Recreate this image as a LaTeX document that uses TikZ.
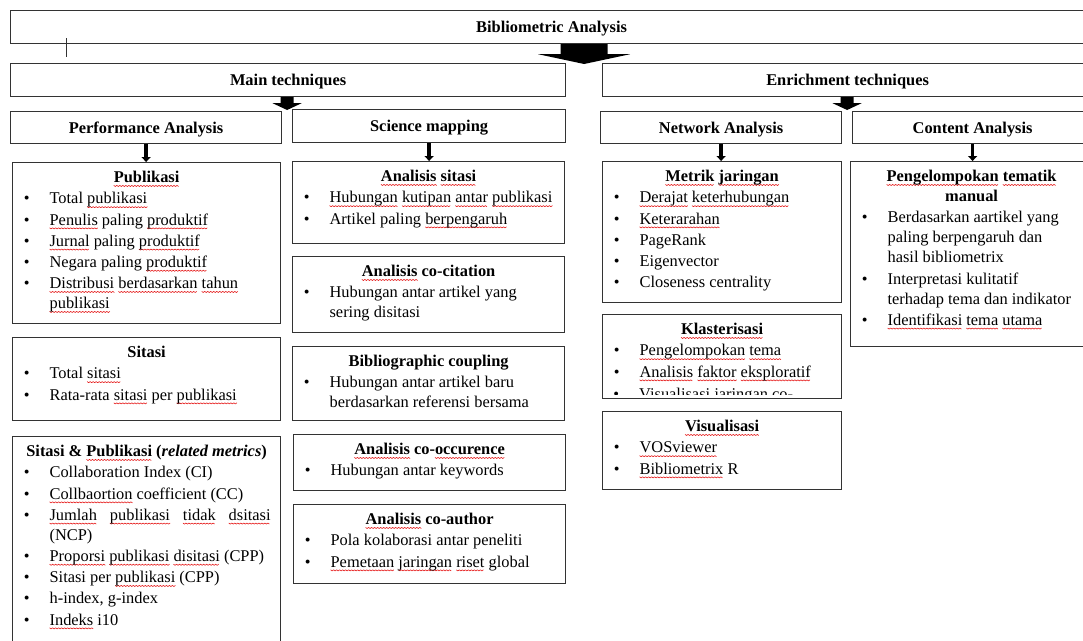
\documentclass[tikz,border=0pt]{standalone}
\usepackage{fontspec}
\setmainfont{Liberation Serif}
\usetikzlibrary{arrows.meta, calc}
\definecolor{boxgray}{rgb}{0.2, 0.2, 0.2}
\definecolor{typored}{rgb}{0.9, 0.1, 0.1}

\newcommand{\boxfont}{\fontsize{16.4}{20}\selectfont}
\newcount\wavesteps
\newcount\wavei
\newdimen\wavex
\makeatletter
\newcommand{\wavepath}[1]{%
    \wavex=#1\relax
    \wavesteps=\wavex \divide\wavesteps by 98304
    \def\wavestr{0 0 m}\wavei=0
    \loop\ifnum\wavei<\wavesteps
        \advance\wavei by 1
        \wavex=1.5pt \multiply\wavex by \wavei
        \ifodd\wavei \def\wavey{-1.1}\else\def\wavey{0}\fi
        \edef\wavestr{\wavestr\space\strip@pt\wavex\space\wavey\space l}%
    \repeat
    \special{pdf:content q 0.9 0.1 0.1 RG 0.6 w 1 j \wavestr\space S Q}}
\makeatother
\newcommand{\typo}[1]{\leavevmode\setbox0=\hbox{#1}\rlap{\lower2.8pt\hbox{\wavepath{\wd0}}}\box0\relax}
\newcommand{\cardbody}[3]{\parbox[c][#2pt][t]{#1pt}{\boxfont #3}}
\newcommand{\cardhead}[1]{{\centering\bfseries\rule{0pt}{20pt}#1\par}}
\newcommand{\li}[1]{{\raggedright\leftskip=37pt\relax\vspace{1.2pt}\noindent\llap{\textbullet\hspace{20pt}}#1\par}}

\begin{document}
\begin{tikzpicture}[x=1pt, y=-1pt,
        head/.style={draw=boxgray, line width=1.2pt, anchor=north west, inner sep=0pt,
            font=\boxfont\bfseries, text height=11pt, text depth=0pt},
        card/.style={draw=boxgray, line width=1.2pt, anchor=north west, inner sep=0pt},
        blockarrow/.style={fill=black},
        stem/.style={line width=3.5pt, -{Triangle[length=5pt, width=9pt]}}]
                    \clip (0, 0) rectangle (1083, 640);

                    \node[head, minimum width=1082pt, minimum height=33pt] (Biblio) at (10, 10) {Bibliometric Analysis};
                    \node[head, minimum width=555pt, minimum height=33pt] (Main) at (10, 63) {Main techniques};
                    \node[head, minimum width=490pt, minimum height=33pt] (Enrich) at (602, 63) {Enrichment techniques};
                    \node[head, minimum width=271pt, minimum height=32pt] (Perf) at (10, 111) {Performance Analysis};
                    \node[head, minimum width=273pt, minimum height=33pt] (SciMap) at (292, 109) {Science mapping};
                    \node[head, minimum width=241pt, minimum height=32pt] (NetAn) at (600, 111) {Network Analysis};
                    \node[head, minimum width=240pt, minimum height=32pt] (ContAn) at (852, 111) {Content Analysis};

                    \node[card] (Pub) at (12, 162) {\cardbody{268}{161}{%
                        \cardhead{\typo{Publikasi}}
                        \li{Total \typo{publikasi}}
                        \li{\typo{Penulis} paling \typo{produktif}}
                        \li{\typo{Jurnal} paling \typo{produktif}}
                        \li{Negara paling \typo{produktif}}
                        \li{\typo{Distribusi} \typo{berdasarkan} \typo{tahun}\\\typo{publikasi}}}};
                    \node[card] (Sit) at (12, 337) {\cardbody{268}{83}{%
                        \cardhead{Sitasi}
                        \li{Total \typo{sitasi}}
                        \li{Rata-rata \typo{sitasi} per \typo{publikasi}}}};
                    \node[card] (SitPub) at (12, 436) {\cardbody{268}{224}{%
                        \cardhead{Sitasi \& \typo{Publikasi} (\textit{related metrics})}
                        \li{Collaboration Index (CI)}
                        \li{\typo{Collbaortion} coefficient (CC)}
                        \li{\makebox[221pt][s]{\typo{Jumlah} \typo{publikasi} \typo{tidak} \typo{dsitasi}}\\(NCP)}
                        \li{\typo{Proporsi} \typo{publikasi} \typo{disitasi} (CPP)}
                        \li{Sitasi per \typo{publikasi} (CPP)}
                        \li{h-index, g-index}
                        \li{\typo{Indeks} i10}}};

                    \node[card] (ASit) at (292, 161) {\cardbody{272}{82}{%
                        \cardhead{\typo{Analisis} \typo{sitasi}}
                        \li{\typo{Hubungan} \typo{kutipan} \typo{antar} \typo{publikasi}}
                        \li{Artikel paling \typo{berpengaruh}}}};
                    \node[card] (ACocit) at (292, 256) {\cardbody{272}{76}{%
                        \cardhead{\typo{Analisis} co-citation}
                        \li{Hubungan antar artikel yang\\sering disitasi}}};
                    \node[card] (BibCoup) at (292, 346) {\cardbody{272}{74}{%
                        \cardhead{Bibliographic coupling}
                        \li{Hubungan antar artikel baru\\berdasarkan referensi bersama}}};
                    \node[card] (ACooc) at (293, 434) {\cardbody{272}{56}{%
                        \cardhead{\typo{Analisis} co-\typo{occurence}}
                        \li{Hubungan antar keywords}}};
                    \node[card] (ACoauth) at (293, 504) {\cardbody{272}{79}{%
                        \cardhead{\typo{Analisis} co-author}
                        \li{Pola kolaborasi antar peneliti}
                        \li{\typo{Pemetaan} \typo{jaringan} \typo{riset} global}}};

                    \node[card] (Metrik) at (602, 161) {\cardbody{239}{141}{%
                        \cardhead{\typo{Metrik} \typo{jaringan}}
                        \li{\typo{Derajat} \typo{keterhubungan}}
                        \li{\typo{Keterarahan}}
                        \li{PageRank}
                        \li{Eigenvector}
                        \li{Closeness centrality}}};
                    \node[card] (Klas) at (602, 314) {\cardbody{239}{84}{%
                        \cardhead{\typo{Klasterisasi}}
                        \li{\typo{Pengelompokan} \typo{tema}}
                        \li{\typo{Analisis} \typo{faktor} \typo{eksploratif}}}};
                    \node[card] (Visual) at (602, 411) {\cardbody{239}{78}{%
                        \cardhead{\typo{Visualisasi}}
                        \li{\typo{VOSviewer}}
                        \li{\typo{Bibliometrix} R}}};

                    \node[card] (Tematik) at (850, 161) {\cardbody{242}{185}{%
                        \cardhead{\typo{Pengelompokan} \typo{tematik}\\manual}
                        \li{Berdasarkan aartikel yang\\paling berpengaruh dan\\hasil bibliometrix}
                        \li{Interpretasi kulitatif\\terhadap tema dan indikator}
                        \li{\typo{Identifikasi} \typo{tema} \typo{utama}}}};

                    \begin{scope}
                        \clip (Klas.north west) rectangle ($(Klas.south east)+(0, -5)$);
                        \node[anchor=base west, inner sep=0pt, font=\boxfont] (KlasMore) at (639, 399)
                            {\llap{\textbullet\hspace{20pt}}Visualisasi jaringan co-};
                    \end{scope}

                    \coordinate (GapTop) at ($(Main.east)!0.5!(Enrich.west)$);
                    \coordinate (GapMain) at ($(Perf.east)!0.5!(SciMap.west)$);
                    \coordinate (GapEnrich) at ($(NetAn.east)!0.5!(ContAn.west)$);

                    \fill[blockarrow] ($(GapTop |- Biblio.south)+(-23.5, 0)$) -- ++(47, 0) -- ++(0, 10) -- ++(22.5, 0)
                        -- ($(GapTop |- Main.north)+(0, 1)$) -- ($(GapTop |- Biblio.south)+(-46, 10)$) -- ++(22.5, 0) -- cycle;
                    \fill[blockarrow] ($(GapMain |- Main.south)+(-6.5, 0)$) -- ++(13, 0) -- ++(0, 6) -- ++(8, 0)
                        -- ($(GapMain |- Perf.north)+(0, -1)$) -- ($(GapMain |- Main.south)+(-14.5, 6)$) -- ++(8, 0) -- cycle;
                    \fill[blockarrow] ($(GapEnrich |- Enrich.south)+(-6.5, 0)$) -- ++(13, 0) -- ++(0, 6) -- ++(8, 0)
                        -- ($(GapEnrich |- NetAn.north)+(0, -1)$) -- ($(GapEnrich |- Enrich.south)+(-14.5, 6)$) -- ++(8, 0) -- cycle;

                    \draw[stem] (Perf.south) -- (Perf.south |- Pub.north);
                    \draw[stem] (SciMap.south) -- (SciMap.south |- ASit.north);
                    \draw[stem] (NetAn.south) -- (NetAn.south |- Metrik.north);
                    \draw[stem] (ContAn.south) -- (ContAn.south |- Tematik.north);

                    \draw[boxgray, line width=0.8pt] (66, 38) -- (66, 57);
            \end{tikzpicture}
\end{document}
